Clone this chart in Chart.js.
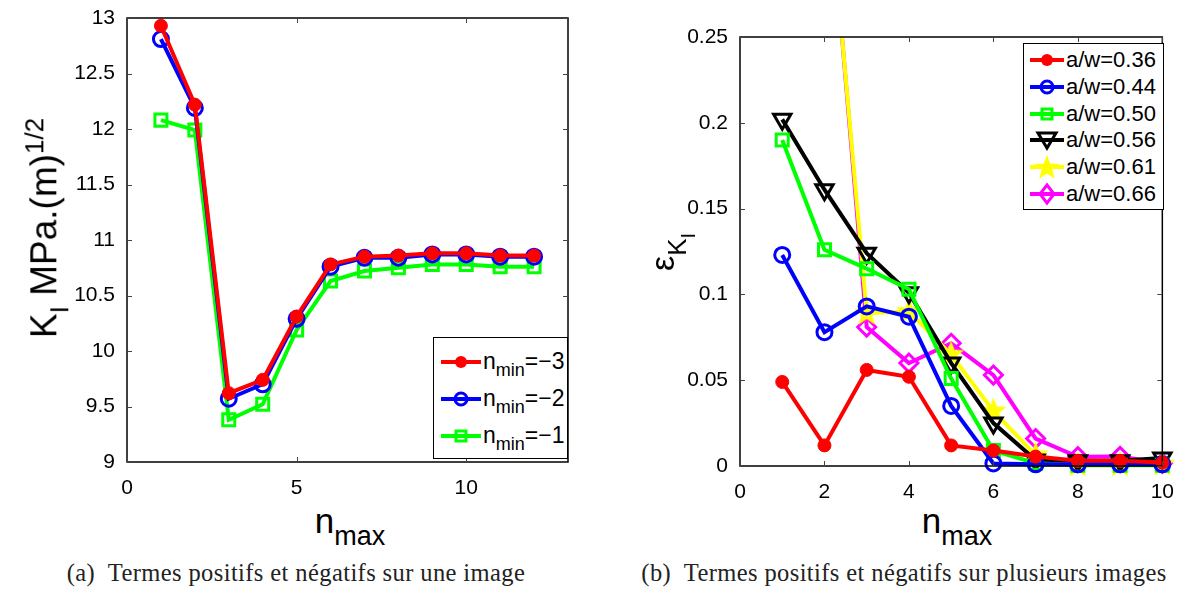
<!DOCTYPE html>
<html>
<head>
<meta charset="utf-8">
<script src="https://cdn.jsdelivr.net/npm/chart.js@4/dist/chart.umd.min.js"></script>
<style>
    body { margin: 0; background: #fff; }
    #page { position: relative; width: 1180px; height: 593px; overflow: hidden; font-family: "Liberation Sans", Arial, sans-serif; }
    canvas { position: absolute; top: 0; }
    .title { position: absolute; white-space: nowrap; color: #000; line-height: 1; }
    .title .sub { position: relative; top: 0.45em; }
    .legend { position: absolute; background: #fff; border: 1px solid #000; box-sizing: border-box; }
    .legend .item { display: flex; align-items: center; white-space: nowrap; }
    .legend svg { flex: none; }
    .caption { position: absolute; top: 559px; font-family: "Liberation Serif", "Times New Roman", serif; font-size: 24.5px; letter-spacing: 0.4px; white-space: nowrap; transform: translateX(-50%); color: #222; }
</style>
</head>
<body>
<div id="page">
    <canvas id="leftChart" width="590" height="500" style="left:0"></canvas>
    <canvas id="rightChart" width="590" height="500" style="left:590px"></canvas>

    <div class="title" style="left:42px;top:228px;font-size:37px;transform:translate(-50%,-50%) rotate(-90deg)">K<span class="sub" style="font-size:26px">I</span> MPa.(m)<sup style="font-size:26px">1/2</sup></div>
    <div class="title" style="left:350px;top:520px;font-size:35px;transform:translate(-50%,-50%)">n<span class="sub" style="font-size:27px">max</span></div>

    <div class="title" style="left:662px;top:252px;font-size:34px;transform:translate(-50%,-50%) rotate(-90deg)">ε<span class="sub" style="font-size:26px">K<span class="sub" style="font-size:20px">I</span></span></div>
    <div class="title" style="left:957px;top:520px;font-size:35px;transform:translate(-50%,-50%)">n<span class="sub" style="font-size:27px">max</span></div>

    <div id="leftLegend" class="legend" style="left:433px;top:337px;width:135px;height:122px;padding:5px 0 0 7px;font-size:23px"></div>
    <div id="rightLegend" class="legend" style="left:1023px;top:43px;width:141px;height:167px;padding:3px 0 0 6px;font-size:22px"></div>

    <div class="caption" style="left:296px">(a)&nbsp; Termes positifs et négatifs sur une image</div>
    <div class="caption" style="left:904px">(b)&nbsp; Termes positifs et négatifs sur plusieurs images</div>
</div>

<script>
// ---- left panel: K_I vs n_max for several n_min ----
const nmaxLeft = [1, 2, 3, 4, 5, 6, 7, 8, 9, 10, 11, 12];
const kNminM3 = [12.93, 12.22, 9.62, 9.74, 10.31, 10.78, 10.85, 10.86, 10.88, 10.88, 10.86, 10.86];
const kNminM2 = [12.81, 12.19, 9.57, 9.70, 10.29, 10.76, 10.84, 10.84, 10.87, 10.87, 10.85, 10.85];
const kNminM1 = [12.08, 11.99, 9.38, 9.52, 10.19, 10.63, 10.72, 10.75, 10.78, 10.78, 10.76, 10.76];
const nminValues = ["−3", "−2", "−1"];
const leftXTicks = [0, 5, 10];
const leftYTicks = [9, 9.5, 10, 10.5, 11, 11.5, 12, 12.5, 13];

// ---- right panel: error vs n_max for several a/w ----
const nmaxRight = [1, 2, 3, 4, 5, 6, 7, 8, 9, 10];
const eps036 = [0.049, 0.012, 0.056, 0.052, 0.012, 0.009, 0.0055, 0.003, 0.003, 0.002];
const eps044 = [0.123, 0.078, 0.093, 0.087, 0.035, 0.0015, 0.001, 0.001, 0.001, 0.001];
const eps050 = [0.190, 0.126, 0.115, 0.103, 0.051, 0.009, 0.0016, 0.0005, 0.0005, 0.0005];
const eps056 = [0.202, 0.161, 0.124, 0.101, 0.060, 0.025, 0.0035, 0.003, 0.003, 0.0047];
const eps061 = [null, 0.365, 0.089, 0.090, 0.065, 0.032, 0.0064, 0.0005, 0.0005, 0.001];
const eps066 = [null, 0.370, 0.081, 0.060, 0.0715, 0.053, 0.016, 0.0054, 0.0056, 0.0016];
const ratioLabels = ["0.36", "0.44", "0.50", "0.56", "0.61", "0.66"];
const rightXTicks = [0, 2, 4, 6, 8, 10];
const rightYTicks = [0, 0.05, 0.1, 0.15, 0.2, 0.25];

const tickFont = { family: "Liberation Sans", size: 21 };

// five-pointed filled star (Chart.js has no pentagram)
function makeStar(r, color) {
    const c = document.createElement("canvas");
    c.width = c.height = 2 * r + 4;
    const ctx = c.getContext("2d");
    ctx.beginPath();
    for (let i = 0; i < 10; i++) {
        const rad = i % 2 === 0 ? r : r * 0.42;
        const a = -Math.PI / 2 + i * Math.PI / 5;
        const px = r + 2 + rad * Math.cos(a);
        const py = r + 2 + rad * Math.sin(a);
        if (i === 0) ctx.moveTo(px, py); else ctx.lineTo(px, py);
    }
    ctx.closePath();
    ctx.fillStyle = color;
    ctx.fill();
    ctx.strokeStyle = color;
    ctx.lineWidth = 2;
    ctx.stroke();
    return c;
}

function series(label, data, color, style, opts) {
    return Object.assign({
        label: label,
        data: data,
        borderColor: color,
        backgroundColor: color,
        borderWidth: 4,
        pointStyle: style,
        pointBorderColor: color,
        pointBackgroundColor: "transparent",
        pointBorderWidth: 3,
        pointRadius: 7,
        pointHoverRadius: 7,
        tension: 0,
        clip: { left: false, right: false, bottom: false, top: 0 }
    }, opts || {});
}

// frame + inward ticks on all four sides, matlab-like
const boxPlugin = {
    id: "box",
    afterDraw(chart) {
        const { ctx, chartArea: a, scales } = chart;
        ctx.save();
        ctx.strokeStyle = "#000";
        ctx.lineWidth = 1.5;
        ctx.strokeRect(a.left, a.top, a.right - a.left, a.bottom - a.top);
        ctx.lineWidth = 1;
        ctx.strokeStyle = "#444";
        const len = 5;
        scales.x.ticks.forEach(t => {
            const px = Math.round(scales.x.getPixelForValue(t.value)) + 0.5;
            ctx.beginPath();
            ctx.moveTo(px, a.bottom); ctx.lineTo(px, a.bottom - len);
            ctx.moveTo(px, a.top); ctx.lineTo(px, a.top + len);
            ctx.stroke();
        });
        scales.y.ticks.forEach(t => {
            const py = Math.round(scales.y.getPixelForValue(t.value)) + 0.5;
            ctx.beginPath();
            ctx.moveTo(a.left, py); ctx.lineTo(a.left + len, py);
            ctx.moveTo(a.right, py); ctx.lineTo(a.right - len, py);
            ctx.stroke();
        });
        ctx.restore();
    }
};

function axes(xr, yr, xTicks, yTicks, yWidth, xHeight) {
    return {
        x: {
            type: "linear", min: xr[0], max: xr[1],
            afterBuildTicks: s => { s.ticks = xTicks.map(v => ({ value: v })); },
            afterFit: s => { s.height = xHeight; },
            grid: { display: false }, border: { display: false },
            ticks: { font: tickFont, color: "#000", padding: 6, maxRotation: 0, callback: v => String(v) }
        },
        y: {
            type: "linear", min: yr[0], max: yr[1],
            afterBuildTicks: s => { s.ticks = yTicks.map(v => ({ value: v })); },
            afterFit: s => { s.width = yWidth; },
            grid: { display: false }, border: { display: false },
            ticks: { font: tickFont, color: "#000", padding: 4, callback: v => String(v) }
        }
    };
}

function baseOptions(scales, padding) {
    return {
        responsive: false,
        animation: false,
        layout: { padding: padding },
        plugins: { legend: { display: false }, tooltip: { enabled: false } },
        scales: scales
    };
}

// little line+marker sample for the html legend
function sampleSvg(ds, w) {
    const c = ds.borderColor;
    const cx = w / 2;
    let m = "";
    if (ds.pointStyle === "circle" && ds.pointBackgroundColor !== "transparent") m = `<circle cx="${cx}" cy="12" r="6" fill="${c}"/>`;
    else if (ds.pointStyle === "circle") m = `<circle cx="${cx}" cy="12" r="6" stroke="${c}" stroke-width="3" fill="none"/>`;
    else if (ds.pointStyle === "rect") m = `<rect x="${cx - 5}" y="7" width="10" height="10" stroke="${c}" stroke-width="3" fill="none"/>`;
    else if (ds.pointStyle === "rectRot") m = `<polygon points="${cx},3 ${cx + 7},12 ${cx},21 ${cx - 7},12" stroke="${c}" stroke-width="3" fill="none"/>`;
    else if (ds.pointStyle === "triangle") m = `<polygon points="${cx - 9},5 ${cx + 9},5 ${cx},20" stroke="${c}" stroke-width="3" fill="none"/>`;
    else {
        const pts = [];
        for (let i = 0; i < 10; i++) {
            const r = i % 2 === 0 ? 11 : 4.6;
            const a = -Math.PI / 2 + i * Math.PI / 5;
            pts.push((cx + r * Math.cos(a)).toFixed(1) + "," + (13 + r * Math.sin(a)).toFixed(1));
        }
        m = `<polygon points="${pts.join(" ")}" fill="${c}" stroke="${c}" stroke-width="1.5"/>`;
    }
    return `<svg width="${w}" height="24"><line x1="0" y1="12" x2="${w}" y2="12" stroke="${c}" stroke-width="4"/>${m}</svg>`;
}

function htmlLegend(chart, el, labels, rowHeight, sampleWidth) {
    el.innerHTML = "";
    chart.data.datasets.forEach((ds, i) => {
        const row = document.createElement("div");
        row.className = "item";
        row.style.height = rowHeight + "px";
        row.innerHTML = sampleSvg(ds, sampleWidth) + `<span style="margin-left:2px">${labels[i]}</span>`;
        el.appendChild(row);
    });
}

// left chart
const leftChart = new Chart(document.getElementById("leftChart"), {
    type: "line",
    data: {
        labels: nmaxLeft,
        datasets: [
            series("n_min=-3", nmaxLeft.map((x, i) => ({ x: x, y: kNminM3[i] })), "#ff0000", "circle",
                { pointBackgroundColor: "#ff0000", pointRadius: 6.5, pointHoverRadius: 6.5, pointBorderWidth: 1 }),
            series("n_min=-2", nmaxLeft.map((x, i) => ({ x: x, y: kNminM2[i] })), "#0000ff", "circle",
                { pointRadius: 7.5, pointHoverRadius: 7.5 }),
            series("n_min=-1", nmaxLeft.map((x, i) => ({ x: x, y: kNminM1[i] })), "#00ff00", "rect",
                { pointRadius: 8.5, pointHoverRadius: 8.5 })
        ]
    },
    options: baseOptions(axes([0, 13], [9, 13], leftXTicks, leftYTicks, 127, 38),
        { left: 0, top: 18, right: 22, bottom: 0 }),
    plugins: [boxPlugin]
});
htmlLegend(leftChart, document.getElementById("leftLegend"),
    nminValues.map(v => `n<span style="position:relative;top:0.4em;font-size:18px">min</span>=${v}`), 37, 40);

// right chart
const star = makeStar(11, "#ffff00");
const rightData = [eps036, eps044, eps050, eps056, eps061, eps066];
const rightColors = ["#ff0000", "#0000ff", "#00ff00", "#000000", "#ffff00", "#ff00ff"];
const rightStyles = ["circle", "circle", "rect", "triangle", star, "rectRot"];
const rightExtra = [
    { pointBackgroundColor: "#ff0000", pointRadius: 6.5, pointHoverRadius: 6.5, pointBorderWidth: 1 },
    { pointRadius: 7.5, pointHoverRadius: 7.5 },
    { pointRadius: 8.5, pointHoverRadius: 8.5 },
    { pointRadius: 10, pointHoverRadius: 10, pointRotation: 180 },
    { pointRadius: 11, pointHoverRadius: 11 },
    { pointRadius: 9, pointHoverRadius: 9 }
];
const rightChart = new Chart(document.getElementById("rightChart"), {
    type: "line",
    data: {
        labels: nmaxRight,
        datasets: rightData.map((d, k) => series("a/w=" + ratioLabels[k],
            nmaxRight.map((x, i) => ({ x: x, y: d[i] })), rightColors[k], rightStyles[k], rightExtra[k]))
    },
    options: baseOptions(axes([0, 10], [0, 0.25], rightXTicks, rightYTicks, 150, 34),
        { left: 0, top: 37, right: 10, bottom: 0 }),
    plugins: [boxPlugin]
});
htmlLegend(rightChart, document.getElementById("rightLegend"),
    ratioLabels.map(v => "a/w=" + v), 26.7, 34);
</script>
</body>
</html>
